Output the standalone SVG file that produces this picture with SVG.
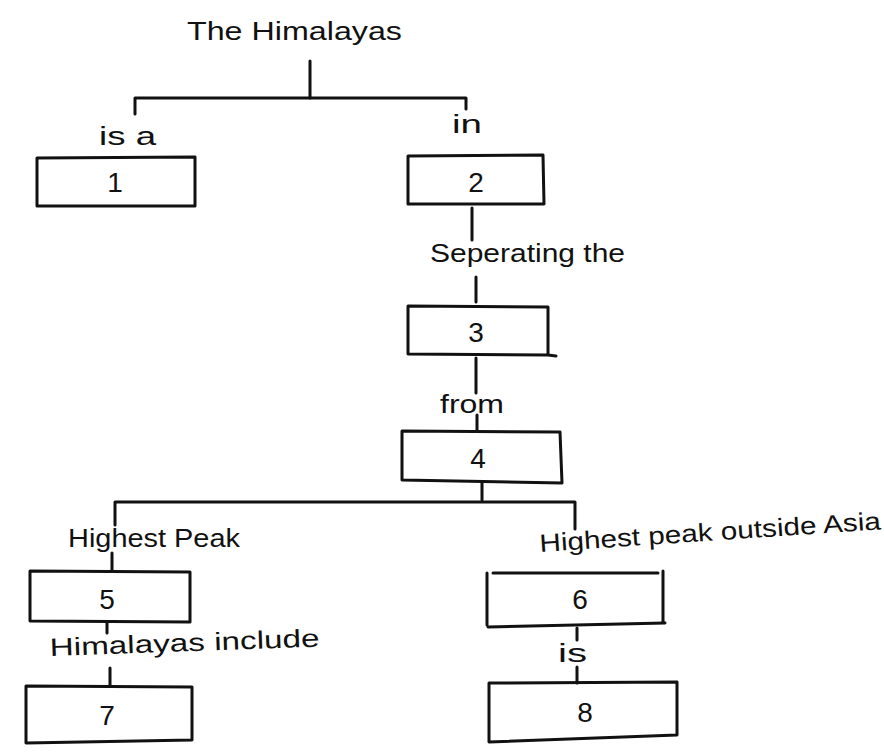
<svg xmlns="http://www.w3.org/2000/svg" width="884" height="754" viewBox="0 0 884 754">
<style>
.box{fill:none;stroke:#111;stroke-width:3;stroke-linecap:round;stroke-linejoin:round}
.ln{fill:none;stroke:#111;stroke-width:3;stroke-linecap:round;stroke-linejoin:round}
.lbl{font-family:"Liberation Sans",Arial,sans-serif;font-size:25px;fill:#111}
.num{font-family:"Liberation Sans",Arial,sans-serif;font-size:28px;fill:#111;text-anchor:middle}
</style>
<rect width="884" height="754" fill="#fff"/>
<g id="connectors">
<path class="ln" d="M310 61 V98"/>
<path class="ln" d="M135 114 V98 H466 V109"/>
<path class="ln" d="M472 208 V240"/>
<path class="ln" d="M476 277 V302"/>
<path class="ln" d="M476 358 V393"/>
<path class="ln" d="M477 415 V431"/>
<path class="ln" d="M482 482 V500"/>
<path class="ln" d="M115 525 V502 H575 V529"/>
<path class="ln" d="M112 553 V571"/>
<path class="ln" d="M107 622 V633"/>
<path class="ln" d="M110 668 V686"/>
<path class="ln" d="M577 628 V640"/>
<path class="ln" d="M577 667 V683"/>
</g>
<g id="labels">
<text class="lbl" x="187" y="40" font-size="28" textLength="215" lengthAdjust="spacingAndGlyphs">The Himalayas</text>
<text class="lbl" x="99" y="145" textLength="57" lengthAdjust="spacingAndGlyphs">is a</text>
<text class="lbl" x="452" y="133" textLength="30" lengthAdjust="spacingAndGlyphs">in</text>
<text class="lbl" x="430" y="262" textLength="195" lengthAdjust="spacingAndGlyphs">Seperating the</text>
<text class="lbl" x="440" y="413" textLength="64" lengthAdjust="spacingAndGlyphs">from</text>
<text class="lbl" x="68" y="547" textLength="172" lengthAdjust="spacingAndGlyphs">Highest Peak</text>
<text class="lbl" x="540" y="552" textLength="342" lengthAdjust="spacingAndGlyphs" transform="rotate(-3.8 540 552)">Highest peak outside Asia</text>
<text class="lbl" x="50" y="656" textLength="270" lengthAdjust="spacingAndGlyphs" transform="rotate(-2 50 656)">Himalayas include</text>
<text class="lbl" x="558" y="662" textLength="29" lengthAdjust="spacingAndGlyphs">is</text>
</g>
<g id="node1"><path class="box" d="M37 158 L195 157 L195 206 L37 206 Z"/><text class="num" x="115" y="192">1</text></g>
<g id="node2"><path class="box" d="M408 156 L543 155 L544 204 L408 204 Z"/><text class="num" x="476" y="192">2</text></g>
<g id="node3"><path class="box" d="M408 306 L548 307 L548 355 L408 354 Z M548 355 L556 356"/><text class="num" x="476" y="342">3</text></g>
<g id="node4"><path class="box" d="M402 431 L560 432 L562 483 L402 480 Z"/><text class="num" x="478" y="468">4</text></g>
<g id="node5"><path class="box" d="M30 571 L190 572 L190 622 L30 621 Z"/><text class="num" x="107" y="609">5</text></g>
<g id="node6"><path class="box" d="M493 573 H658 M487 573 V625 M663 571 V623 M488 627 L665 623"/><text class="num" x="580" y="609">6</text></g>
<g id="node7"><path class="box" d="M26 686 L192 687 L192 740 L26 743 Z"/><text class="num" x="107" y="725">7</text></g>
<g id="node8"><path class="box" d="M489 683 L677 682 L677 735 L489 742 Z"/><text class="num" x="585" y="722">8</text></g>
</svg>
